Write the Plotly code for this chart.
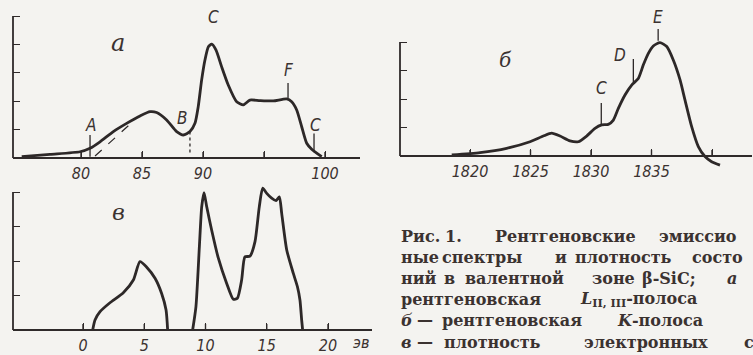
import plotly.graph_objects as go

W, H = 753, 355

# ---------------- data ----------------
# panel a: X-ray L(II,III) emission band (eV, arb. units)
a_energy = [75.14, 77.46, 79.92, 80.74, 81.56, 82.65, 83.74, 84.84, 85.66, 86.20,
            87.02, 87.84, 88.39, 88.93, 89.34, 89.61, 89.89, 90.16, 90.44, 90.71,
            91.07, 91.53, 92.07, 92.76, 93.30, 93.85, 94.67, 95.76, 96.86, 97.27,
            97.68, 98.09, 98.50, 98.91, 99.32, 99.73]
a_intensity = [0.05, 0.13, 0.22, 0.34, 0.57, 0.93, 1.22, 1.48, 1.63, 1.60,
               1.34, 0.93, 0.81, 0.93, 1.22, 1.81, 2.75, 3.45, 3.92, 4.01,
               3.80, 3.21, 2.57, 1.98, 1.87, 2.04, 2.02, 2.01, 2.08, 1.98,
               1.69, 1.10, 0.52, 0.31, 0.17, 0.05]
a_dash_energy = [81.15, 84.30]
a_dash_intensity = [0.07, 1.30]
a_tickvals = [80, 85, 90, 95, 100]
a_ticktext = ["80", "85", "90", " ", "100"]

# panel b: X-ray K emission band (eV)
b_energy = [1818.49, 1820.83, 1823.03, 1824.96, 1826.06, 1826.75, 1827.44, 1828.26,
            1828.95, 1829.64, 1830.33, 1830.88, 1831.43, 1831.85, 1832.26, 1832.81,
            1833.36, 1833.91, 1834.32, 1834.74, 1835.15, 1835.70, 1836.26, 1836.80,
            1837.36, 1837.77, 1838.32, 1838.87, 1839.42, 1839.97, 1840.66]
b_intensity = [0.04, 0.12, 0.27, 0.50, 0.70, 0.80, 0.70, 0.53,
               0.50, 0.70, 0.97, 1.09, 1.11, 1.26, 1.67, 2.14,
               2.49, 2.72, 3.19, 3.60, 3.86, 3.98, 3.84, 3.37,
               2.67, 1.96, 1.03, 0.33, -0.02, -0.20, -0.32]
b_tickvals = [1820, 1825, 1830, 1835, 1840]
b_ticktext = ["1820", "1825", "1830", "1835", " "]

# panel c: density of electronic states (eV)
c1_energy = [0.79, 0.98, 1.39, 2.20, 3.29, 4.11, 4.65, 5.20, 5.88, 6.42, 6.78, 6.91]
c1_density = [0.00, 0.29, 0.53, 0.79, 1.08, 1.45, 1.98, 1.82, 1.50, 1.06, 0.58, 0.00]
c2_energy = [8.95, 9.22, 9.50, 9.69, 9.88, 10.10, 10.50, 11.05, 11.73, 12.27, 12.60,
             12.95, 13.22, 13.63, 14.04, 14.39, 14.67, 15.00, 15.40, 15.76, 16.03,
             16.22, 16.63, 17.17, 17.50, 17.71, 17.85, 17.93]
c2_density = [0.00, 0.68, 2.42, 3.57, 3.98, 3.57, 2.90, 2.08, 1.35, 0.89, 0.92,
              1.45, 2.12, 2.14, 2.56, 3.57, 4.11, 3.96, 3.82, 3.75, 3.86,
              3.38, 2.32, 1.64, 1.26, 0.87, 0.29, 0.00]
c_tickvals = [0, 5, 10, 15, 20]
c_ticktext = ["0", "5", "10", "15", "20"]

# ---------------- style ----------------
BG = "#f4f3f0"
INK = "#2d2828"
AXC = "#2f2a2a"
TXT = "#3b3230"
NARROW = "Liberation Sans Narrow, Arial Narrow, DejaVu Sans Condensed, Liberation Sans, sans-serif"
SERIF = "DejaVu Serif, Liberation Serif, serif"

# panel geometry in pixels: x-domain, y-domain (bottom, top), pixel of reference value, scales
panels = {
    "": dict(xd=(13, 360), yd=(162, 5), xref_px=81, xref_val=80, xs=12.2, base=158, ys=28.4,
             ytop=5, tv=a_tickvals, tt=a_ticktext),
    "2": dict(xd=(400, 752), yd=(170, 8), xref_px=470, xref_val=1820, xs=12.1, base=156, ys=28.5,
              ytop=4, tv=b_tickvals, tt=b_ticktext),
    "3": dict(xd=(13, 372), yd=(336, 184), xref_px=83, xref_val=0, xs=12.25, base=330, ys=34.5,
              ytop=4, tv=c_tickvals, tt=c_ticktext),
}

fig = go.Figure()
line_style = dict(color=INK, width=2.8, shape="spline", smoothing=0.6)

fig.add_trace(go.Scatter(x=a_energy, y=a_intensity, mode="lines", line=line_style,
                         xaxis="x", yaxis="y", hoverinfo="skip"))
fig.add_trace(go.Scatter(x=a_dash_energy, y=a_dash_intensity, mode="lines",
                         line=dict(color=INK, width=1.2, dash="dash"),
                         xaxis="x", yaxis="y", hoverinfo="skip"))
fig.add_trace(go.Scatter(x=b_energy, y=b_intensity, mode="lines", line=line_style,
                         xaxis="x2", yaxis="y2", hoverinfo="skip"))
fig.add_trace(go.Scatter(x=c1_energy, y=c1_density, mode="lines", line=line_style,
                         xaxis="x3", yaxis="y3", hoverinfo="skip"))
fig.add_trace(go.Scatter(x=c2_energy, y=c2_density, mode="lines", line=line_style,
                         xaxis="x3", yaxis="y3", hoverinfo="skip"))

layout = dict(width=W, height=H, margin=dict(l=0, r=0, t=0, b=0),
              paper_bgcolor=BG, plot_bgcolor="rgba(0,0,0,0)", showlegend=False)
shapes = []
for k, p in panels.items():
    x0 = p["xref_val"] + (p["xd"][0] - p["xref_px"]) / p["xs"]
    x1 = p["xref_val"] + (p["xd"][1] - p["xref_px"]) / p["xs"]
    y0 = (p["base"] - p["yd"][0]) / p["ys"]
    y1 = (p["base"] - p["yd"][1]) / p["ys"]
    base_paper = 1 - p["base"] / H
    layout["xaxis" + k] = dict(
        domain=[p["xd"][0] / W, p["xd"][1] / W], range=[x0, x1],
        anchor="free", position=base_paper,
        showline=True, linecolor=AXC, linewidth=1.8,
        ticks="inside", ticklen=6, tickwidth=1.4, tickcolor=AXC,
        tickvals=p["tv"], ticktext=p["tt"], ticklabelstandoff=1,
        tickfont=dict(family=NARROW, size=16, color=TXT, style="italic"),
        showgrid=False, zeroline=False, fixedrange=True)
    layout["yaxis" + k] = dict(
        domain=[1 - p["yd"][0] / H, 1 - p["yd"][1] / H], range=[y0, y1],
        anchor="x" + k, showline=False,
        ticks="inside", ticklen=7, tickwidth=1.4, tickcolor=AXC,
        tickvals=list(range(1, p["ytop"] + 1)), showticklabels=False,
        showgrid=False, zeroline=True, zerolinecolor=AXC, zerolinewidth=1.8,
        fixedrange=True)
    # y axis line (0 .. top)
    shapes.append(dict(type="line", xref="x" + k + " domain", yref="y" + k,
                       x0=0, x1=0, y0=0, y1=p["ytop"],
                       line=dict(color=AXC, width=1.8)))
    # x baseline at the zero level of the panel (paper y of the baseline, unclipped)
    shapes.append(dict(type="line", xref="x" + k + " domain", yref="paper",
                       x0=0, x1=1, y0=base_paper, y1=base_paper,
                       line=dict(color=AXC, width=1.8)))
    # x ticks pointing up from the baseline
    for tv in p["tv"]:
        shapes.append(dict(type="line", xref="x" + k, yref="paper",
                           x0=tv, x1=tv, y0=base_paper, y1=base_paper + 6 / H,
                           line=dict(color=AXC, width=1.4)))

# short marker strokes at the labelled features
def stroke(xr, yr, x, ya, yb, dash="solid", w=1.3):
    shapes.append(dict(type="line", xref=xr, yref=yr, x0=x, x1=x, y0=ya, y1=yb,
                       line=dict(color=INK, width=w, dash=dash)))

stroke("x", "y", 80.74, 0.04, 0.81)
stroke("x", "y", 96.97, 2.11, 2.64)
stroke("x", "y", 99.10, 0.20, 0.86)
stroke("x", "y", 88.93, 0.19, 0.93, dash="dot")
stroke("x2", "y2", 1830.85, 1.09, 1.86)
stroke("x2", "y2", 1833.50, 2.60, 3.40)
stroke("x2", "y2", 1835.55, 4.04, 4.46)
layout["shapes"] = shapes

ann = []
def lab(xr, yr, x, y, t, size=17, family=NARROW):
    ann.append(dict(xref=xr, yref=yr, x=x, y=y, text=t, showarrow=False,
                    font=dict(family=family, size=size, color=TXT, style="italic"),
                    xanchor="center", yanchor="middle"))

lab("x", "y", 80.74, 1.16, "A")
lab("x", "y", 88.36, 1.41, "B")
lab("x", "y", 90.82, 4.96, "C")
lab("x", "y", 96.97, 3.10, "F")
lab("x", "y", 99.18, 1.16, "C")
lab("x", "y", 83.03, 4.05, "а", size=24, family=SERIF)
lab("x2", "y2", 1822.9, 3.37, "б", size=20, family=SERIF)
lab("x2", "y2", 1830.9, 2.39, "C")
lab("x2", "y2", 1832.4, 3.54, "D")
lab("x2", "y2", 1835.5, 4.88, "E")
lab("x3", "y3", 2.86, 3.42, "в", size=22, family=SERIF)
# unit label to the right of the last tick label of panel c
lab("paper", "paper", 361 / W, 1 - 342 / H, "эв", size=16)

# caption (word positions in pixels)
caption = [
    (236, [(399, "Рис."), (443, "1."), (493, "Рентгеновские"), (657, "эмиссио")]),
    (257, [(399, "ные"), (440, "спектры"), (553, "и"), (573, "плотность"), (690, "состо")]),
    (278, [(399, "ний"), (442, "в"), (463, "валентной"), (590, "зоне"), (640, "β-SiC;"),
           (725, "<i>а</i>")]),
    (299, [(399, "рентгеновская"), (578, "<i>L</i><sub>II, III</sub>-полоса")]),
    (320, [(399, "<i>б</i>"), (415, "—"), (440, "рентгеновская"), (615, "<i>K</i>-полоса")]),
    (342, [(399, "<i>в</i>"), (415, "—"), (442, "плотность"), (582, "электронных"), (742, "с")]),
]
for ypx, words in caption:
    for xpx, t in words:
        ann.append(dict(xref="paper", yref="paper", x=xpx / W, y=1 - ypx / H, text=t,
                        showarrow=False, xanchor="left", yanchor="middle",
                        font=dict(family=SERIF, size=16, color=TXT, weight="bold")))
layout["annotations"] = ann

fig.update_layout(**layout)
fig.write_html("out.html", config={"displayModeBar": False},
               post_script="document.body.style.margin='0';document.body.style.overflow='hidden';")
